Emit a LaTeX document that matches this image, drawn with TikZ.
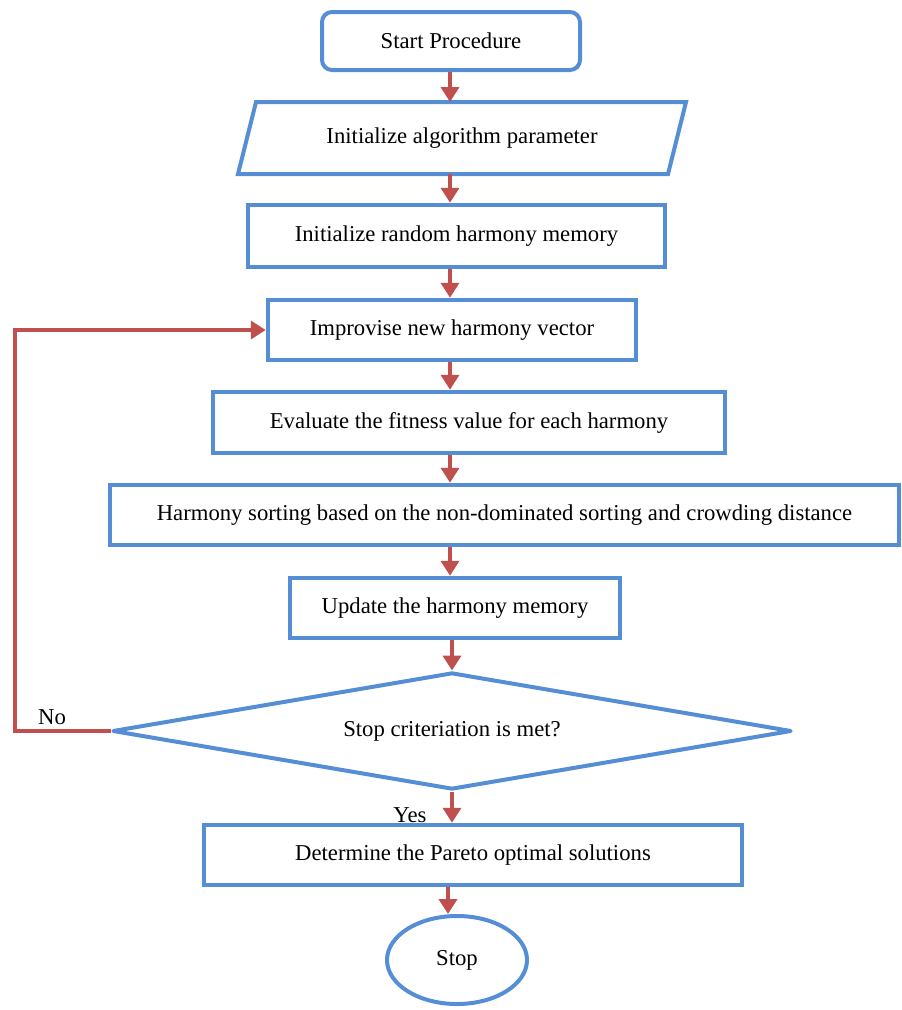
\documentclass[tikz,border=0pt]{standalone}
\usepackage{fontspec}
\setmainfont{Liberation Serif}
\usetikzlibrary{shapes.geometric,arrows.meta}
\definecolor{bblue}{RGB}{85,142,213}
\definecolor{rred}{RGB}{192,80,77}
\begin{document}
\begin{tikzpicture}[x=1pt,y=-1pt,
  txt/.style={font=\fontsize{22.7}{26}\selectfont, text=black},
  box/.style={txt, draw=bblue, line width=4.5pt, minimum height=60pt, inner sep=0pt},
  shp/.style={draw=bblue, line width=4pt},
  arr/.style={draw=rred, line width=4pt, -{Triangle[length=15pt,width=18pt]}}]
\useasboundingbox (0,0) rectangle (902,1010);
\node[box, rounded corners=10pt, line width=4pt, minimum width=258pt, minimum height=58pt] (start) at (451,41) {Start Procedure};
\node[txt, minimum width=430pt, minimum height=72pt, inner sep=0pt, outer sep=0pt] (init) at (462,138) {Initialize algorithm parameter};
\draw[shp] ([xshift=9pt]init.north west) -- ([xshift=9pt]init.north east) -- ([xshift=-9pt]init.south east) -- ([xshift=-9pt]init.south west) -- cycle;
\node[box, minimum width=417pt, minimum height=62pt] (ram) at (456.5,236) {Initialize random harmony memory};
\node[box, minimum width=368pt] (imp) at (452,330) {Improvise new harmony vector};
\node[box, minimum width=512pt, minimum height=61pt] (eval) at (469,422.5) {Evaluate the fitness value for each harmony};
\node[box, minimum width=789pt] (sort) at (504.5,515) {Harmony sorting based on the non-dominated sorting and crowding distance};
\node[box, minimum width=330pt] (upd) at (455,608) {Update the harmony memory};
\node[txt, diamond, shp, line join=round, aspect=5.8, minimum width=679pt, minimum height=117pt, inner sep=0pt] (dia) at (452,731) {Stop criteriation is met?};
\node[box, minimum width=538pt] (det) at (473,855) {Determine the Pareto optimal solutions};
\node[txt, ellipse, shp, minimum width=140pt, minimum height=88pt, inner sep=0pt] (stop) at (457,960) {Stop};
\node[txt] (no) at (52,717) {No};
\node[txt] (yes) at (410,815) {Yes};
\coordinate (col) at (450,0);
\coordinate (col2) at (448,0);
\coordinate (fb) at (15,0);
\draw[arr] (start.south -| col) -- (init.north -| col);
\draw[arr] (init.south -| col) -- (ram.north -| col);
\draw[arr] (ram.south -| col) -- (imp.north -| col);
\draw[arr] (imp.south -| col) -- (eval.north -| col);
\draw[arr] (eval.south -| col) -- (sort.north -| col);
\draw[arr] (sort.south -| col) -- (upd.north -| col);
\draw[arr] (upd.south -| dia.north) -- (dia.north);
\draw[arr] (dia.south) -- (det.north -| dia.south);
\draw[arr] (det.south -| col2) -- (stop.north -| col2);
\draw[arr] (dia.west) -- (dia.west -| fb) |- (imp.west);
\end{tikzpicture}
\end{document}
